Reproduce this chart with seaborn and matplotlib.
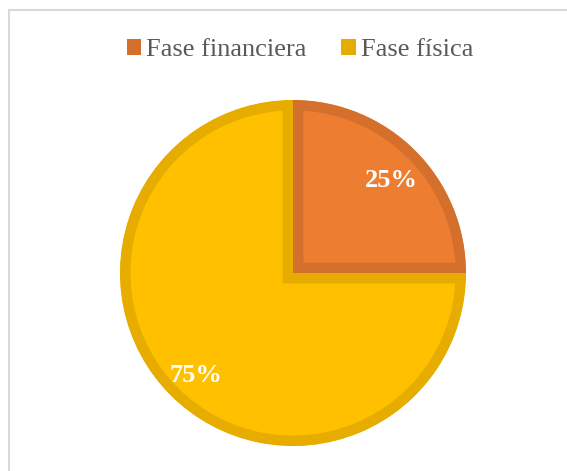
import numpy as np
import pandas as pd
import seaborn as sns
import matplotlib.pyplot as plt
from matplotlib.patches import Rectangle, Patch, Wedge
from matplotlib.transforms import offset_copy

# Data
labels = ['Fase financiera', 'Fase física']
values = [25, 75]
fill_colors = ['#ED7D31', '#FFC000']
edge_colors = ['#D4702B', '#E6AC00']

sns.set_style('white')
plt.rcParams['font.family'] = ['Liberation Serif', 'DejaVu Serif']

fig = plt.figure(figsize=(5.67, 4.71), dpi=100)
W, H = 567, 471

# light gray frame (only top/left visible in the reference)
fig.patches.append(Rectangle((9 / W, -0.1), 1.2, (471 - 10) / H + 0.1,
                             transform=fig.transFigure, fill=False,
                             edgecolor='#D9D9D9', linewidth=1.5))

# pie axes placed so the circle spans x 120..466, y 100..446 (px)
ax = fig.add_axes([120 / W, (H - 446) / H, 346 / W, 346 / H])
wedges, texts, autotexts = ax.pie(
    values, colors=fill_colors, startangle=90, counterclock=False,
    autopct='%1.0f%%', pctdistance=0.8,
    textprops={'color': 'white', 'fontsize': 19, 'fontweight': 'bold'},
    wedgeprops={'linewidth': 15})
ax.set_xlim(-1, 1)
ax.set_ylim(-1, 1)
for w, ec in zip(wedges, edge_colors):
    w.set_edgecolor(ec)
    # keep the border inside each slice
    clip = Wedge(w.center, w.r, w.theta1, w.theta2, transform=ax.transData)
    w.set_clip_on(True)
    w.set_clip_path(clip)
# nudge the percentage labels down a bit
for t in autotexts:
    t.set_transform(offset_copy(ax.transData, fig, x=1, y=-5, units='dots'))
ax.axis('off')

handles = [Patch(facecolor=c, edgecolor='none') for c in edge_colors]
fig.legend(handles, labels, loc='center', bbox_to_anchor=(300 / W, 1 - 50 / H),
           ncol=2, frameon=False, fontsize=19, handlelength=0.55, handleheight=0.55,
           handletextpad=0.2, columnspacing=1.3, labelcolor='#595959')

fig.savefig('out.png', dpi=100)
